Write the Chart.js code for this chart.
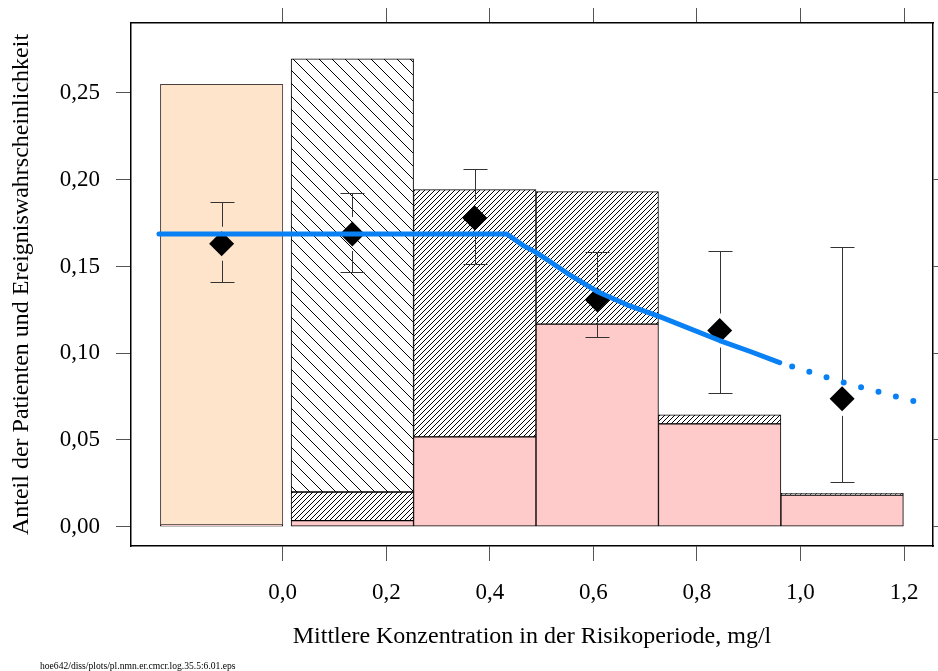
<!DOCTYPE html>
<html>
<head>
<meta charset="utf-8">
<script src="https://cdn.jsdelivr.net/npm/chart.js@4.4.1/dist/chart.umd.min.js"></script>
<style>
  body { margin: 0; background: #fff; }
  canvas { display: block; }
</style>
</head>
<body>
<canvas id="chart" width="938" height="671"></canvas>
<script>
// class midpoints (mg/l), first class = patients without concentration
var classMid = [-0.118, 0.1345, 0.371, 0.6075, 0.844, 1.0805];

// stacked bar parts (upper edge of each part)
var evtShare  = [0.001, 0.0035, 0.0518, 0.1168, 0.0593, 0.0183];
var denseTop  = [null, 0.0200, 0.1943, 0.1931, 0.0645, 0.0193];
var sparseTop = [null, 0.2697, null, null, null, null];
var noConcTop = [0.2549, null, null, null, null, null];

// observed event rate with interval
var obsRate = [0.1631, 0.1687, 0.1779, 0.1308, 0.1131, 0.0737];
var obsLow  = [0.1410, 0.1468, 0.1516, 0.1091, 0.0771, 0.0256];
var obsHigh = [0.1872, 0.1926, 0.2063, 0.1583, 0.1587, 0.1610];

// model curve, solid part and extrapolation
var fitX = [-0.239, 0.433, 0.465, 0.491, 0.549, 0.607, 0.665, 0.727, 0.844, 0.903, 0.960];
var fitY = [0.1687, 0.1687, 0.1620, 0.1578, 0.1462, 0.1356, 0.1279, 0.1212, 0.1073, 0.1010, 0.0946];
var extX = [0.960, 1.090, 1.235];
var extY = [0.0946, 0.0825, 0.0711];

var xTicks = [0, 0.2, 0.4, 0.6, 0.8, 1.0, 1.2];
var yTicks = [0, 0.05, 0.10, 0.15, 0.20, 0.25];
var xMin = -0.293, xMax = 1.256, yMin = -0.0111, yMax = 0.2903;

var FONT = '"Liberation Serif", "Times New Roman", serif';
Chart.defaults.font.family = FONT;
Chart.defaults.color = '#000';

function hatch(step, up, bg) {
  var c = document.createElement('canvas');
  c.width = c.height = step;
  var g = c.getContext('2d');
  g.fillStyle = bg;
  g.fillRect(0, 0, step, step);
  g.strokeStyle = '#000';
  g.lineWidth = 1;
  g.beginPath();
  for (var k = -1; k <= 1; k++) {
    if (up) { g.moveTo(k * step, step); g.lineTo(k * step + step, 0); }
    else { g.moveTo(k * step, 0); g.lineTo(k * step + step, step); }
  }
  g.stroke();
  return g.createPattern(c, 'repeat');
}

function segs(lo, hi) {
  var out = [];
  for (var i = 0; i < classMid.length; i++) {
    if (hi[i] == null) continue;
    out.push({x: classMid[i], y: [lo[i] || 0, hi[i]]});
  }
  return out;
}
function pts(xs, ys) {
  return xs.map(function (v, i) { return {x: v, y: ys[i]}; });
}

var barBase = {
  type: 'bar', xAxisID: 'xb', yAxisID: 'y', grouped: false,
  barPercentage: 1, categoryPercentage: 1,
  borderWidth: 1, borderColor: '#000', borderSkipped: false, order: 3
};

function fixTicks(list) {
  return function (s) { s.ticks = list.map(function (v) { return {value: v}; }); };
}
// fixed axis box size, no extra room for overhanging labels
function fixSize(w, h) {
  return function (s) {
    if (w != null) s.width = w;
    if (h != null) s.height = h;
    s.paddingLeft = s.paddingRight = s.paddingTop = s.paddingBottom = 0;
  };
}

// interval whiskers, drawn just before the diamonds
var errorBars = {
  id: 'errorBars',
  beforeDatasetDraw: function (chart, args) {
    if (chart.data.datasets[args.index].label !== 'Ereignisrate') return;
    var xs = chart.scales.x, ys = chart.scales.y, ctx = chart.ctx;
    ctx.save();
    ctx.strokeStyle = '#333';
    ctx.lineWidth = 1;
    ctx.beginPath();
    for (var i = 0; i < classMid.length; i++) {
      var px = Math.round(xs.getPixelForValue(classMid[i])) + 0.5;
      var pm = ys.getPixelForValue(obsRate[i]);
      var pl = Math.round(ys.getPixelForValue(obsLow[i])) + 0.5;
      var ph = Math.round(ys.getPixelForValue(obsHigh[i])) + 0.5;
      ctx.moveTo(px, ph); ctx.lineTo(px, pm - 17);
      ctx.moveTo(px, pm + 17); ctx.lineTo(px, pl);
      ctx.moveTo(px - 12, ph); ctx.lineTo(px + 12, ph);
      ctx.moveTo(px - 12, pl); ctx.lineTo(px + 12, pl);
    }
    ctx.stroke();
    ctx.restore();
  },
  afterDraw: function (chart) {
    var ctx = chart.ctx;
    ctx.save();
    ctx.font = '9.6px ' + FONT;
    ctx.fillStyle = '#000';
    ctx.textBaseline = 'middle';
    ctx.fillText('hoe642/diss/plots/pl.nmn.er.cmcr.log.35.5:6.01.eps', 40, chart.height - 4.5);
    ctx.restore();
  }
};

var tickGrid = { drawOnChartArea: false, drawTicks: true, tickLength: 15, color: '#555', lineWidth: 1, offset: false };
var boxBorder = { display: true, color: '#000', width: 1.5 };

new Chart(document.getElementById('chart'), {
  type: 'bar',
  data: {
    datasets: [
      Object.assign({}, barBase, { label: 'Ereignisse', data: segs([], evtShare), backgroundColor: '#ffcaca' }),
      Object.assign({}, barBase, { label: 'dicht', data: segs(evtShare, denseTop), backgroundColor: hatch(5, true, '#fff') }),
      Object.assign({}, barBase, { label: 'locker', data: segs(denseTop, sparseTop), backgroundColor: hatch(13, false, '#fff') }),
      Object.assign({}, barBase, { label: 'ohne', data: segs(evtShare, noConcTop), backgroundColor: '#ffe4cc', borderColor: '#4a4040' }),
      {
        type: 'line', label: 'Ereignisrate', data: pts(classMid, obsRate),
        showLine: false, pointStyle: 'rectRot', pointRadius: 12.5,
        pointBackgroundColor: '#000', pointBorderWidth: 0, order: 1
      },
      {
        type: 'line', label: 'Modell', data: pts(fitX, fitY),
        borderColor: '#0a80f5', borderWidth: 5, pointRadius: 0,
        borderCapStyle: 'round', borderJoinStyle: 'round', order: 0
      },
      {
        type: 'line', label: 'Extrapolation', data: pts(extX, extY),
        borderColor: '#0a80f5', borderWidth: 6, pointRadius: 0,
        borderCapStyle: 'round', borderDash: [0, 18], borderDashOffset: 5, order: 0
      }
    ]
  },
  options: {
    responsive: false,
    animation: false,
    events: [],
    devicePixelRatio: 1,
    layout: { padding: 0, autoPadding: false },
    plugins: { legend: { display: false }, tooltip: { enabled: false } },
    scales: {
      xb: {
        type: 'linear', display: false, offset: false, min: xMin, max: xMax,
        grid: { offset: false },
        afterBuildTicks: fixTicks([xMin, xMax])
      },
      x: {
        type: 'linear', position: 'bottom', offset: false, min: xMin, max: xMax,
        afterBuildTicks: fixTicks(xTicks),
        ticks: {
          font: { size: 23 }, padding: 18, maxRotation: 0,
          callback: function (v) { return v.toFixed(1).replace('.', ','); }
        },
        grid: tickGrid, border: boxBorder,
        title: {
          display: true, text: 'Mittlere Konzentration in der Risikoperiode, mg/l',
          font: { size: 24 }, padding: { top: 0, bottom: 20 }
        },
        afterFit: fixSize(null, 125)
      },
      xTop: {
        type: 'linear', position: 'top', offset: false, min: xMin, max: xMax,
        afterBuildTicks: fixTicks(xTicks),
        ticks: { display: false },
        grid: tickGrid, border: boxBorder,
        afterFit: fixSize(null, 23)
      },
      y: {
        type: 'linear', position: 'left', min: yMin, max: yMax,
        afterBuildTicks: fixTicks(yTicks),
        ticks: {
          font: { size: 23 }, padding: 16,
          callback: function (v) { return v.toFixed(2).replace('.', ','); }
        },
        grid: tickGrid, border: boxBorder,
        title: {
          display: true, text: 'Anteil der Patienten und Ereigniswahrscheinlichkeit',
          font: { size: 24 }, padding: { top: 7, bottom: 0 }
        },
        afterFit: fixSize(131, null)
      },
      yRight: {
        type: 'linear', position: 'right', min: yMin, max: yMax,
        afterBuildTicks: fixTicks(yTicks),
        ticks: { display: false },
        grid: tickGrid, border: boxBorder,
        afterFit: fixSize(5, null)
      }
    }
  },
  plugins: [errorBars]
});
</script>
</body>
</html>
